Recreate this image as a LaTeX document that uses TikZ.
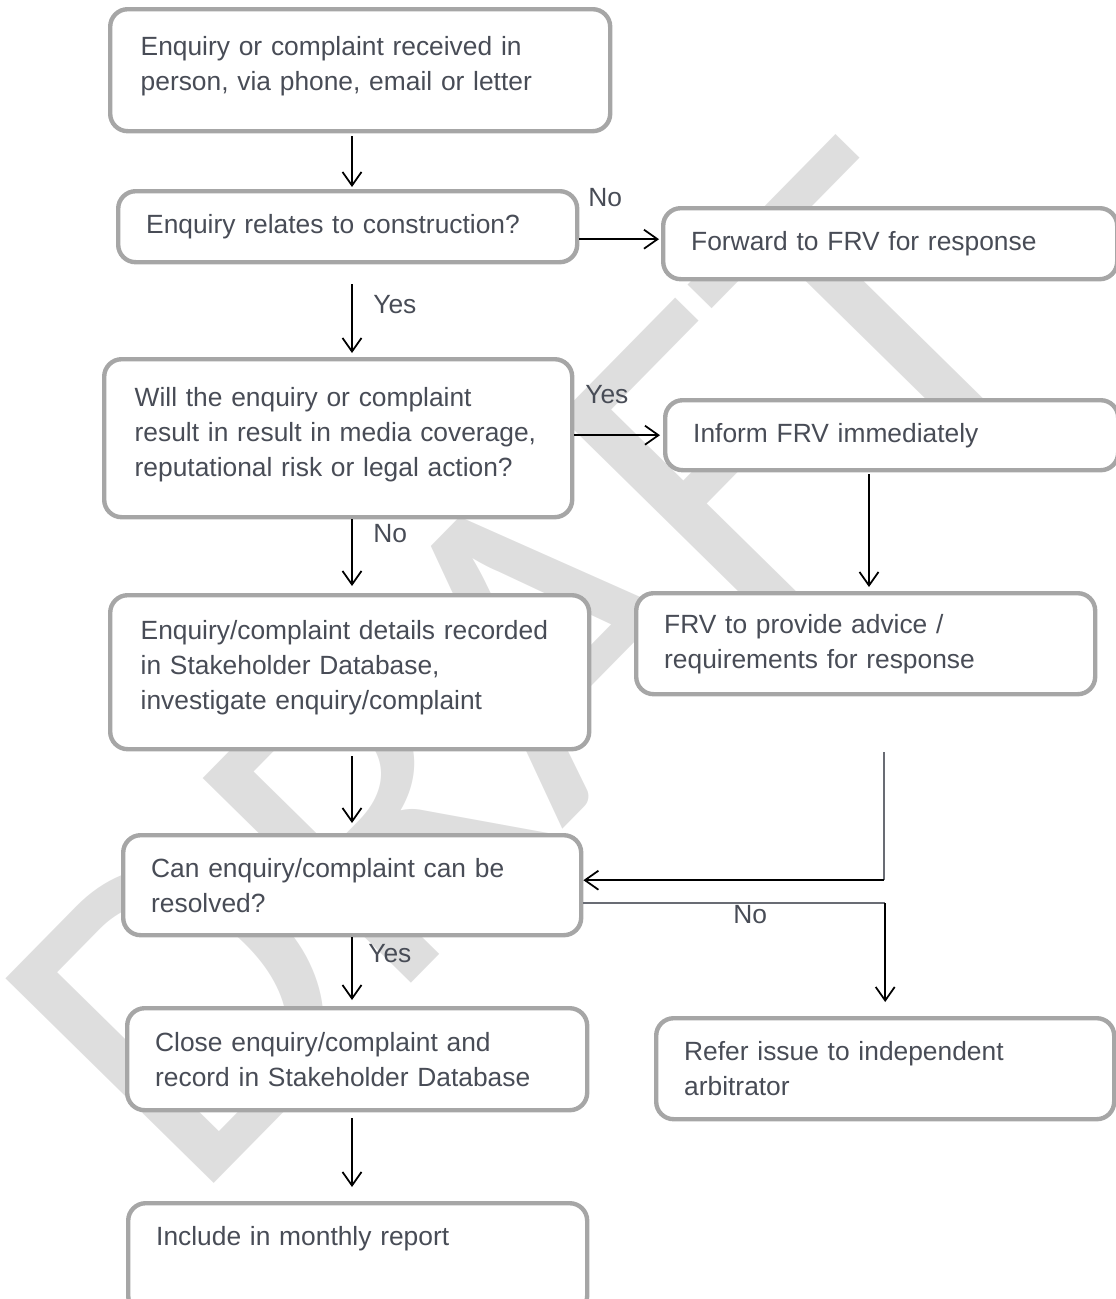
\documentclass[tikz,border=0pt]{standalone}
\usepackage{fontspec}
\setmainfont{Liberation Sans}
\newfontfamily\wmfont{Carlito}
\usetikzlibrary{arrows.meta,calc}
\definecolor{txtgray}{RGB}{72,76,86}
\definecolor{boxgray}{RGB}{166,166,166}
\definecolor{linegray}{RGB}{105,108,116}
\definecolor{wmgray}{RGB}{222,222,222}

\begin{document}
\begin{tikzpicture}[
    box/.style = {draw=boxgray, line width=2.5pt, rounded corners=0.35cm, fill=white,
                  anchor=north west, align=left, inner xsep=0.56cm, inner ysep=0.1cm,
                  text=txtgray, font=\fontsize{15}{19.9}\selectfont},
    lbl/.style = {anchor=base west, inner sep=0pt, text=txtgray,
                  font=\fontsize{15}{19.9}\selectfont},
    arr/.style = {line width=1pt, -{Straight Barb[length=2.7mm,width=3.8mm]}},
    gline/.style = {line width=1pt, draw=linegray}
  ]
\useasboundingbox (0,0) rectangle (22.3,-25.98);

% watermark
\node[rotate=45.5, text=wmgray, inner sep=0pt,
      font=\wmfont\fontsize{259}{259}\selectfont] (wm) at (10.32,-13.36) {DRAFT};

% left column
\node[box, inner xsep=0.61cm, text width=8.78cm, minimum height=2.44cm, text depth=0.98cm] (recv) at (2.16,-0.14)
    {Enquiry or complaint received in\\person, via phone, email or letter};
\node[box, text width=8.06cm, minimum height=1.42cm] (constr) at (2.32,-3.78)
    {Enquiry relates to construction?};
\node[box, inner xsep=0.61cm, text width=8.14cm, minimum height=3.16cm, text depth=1.66cm] (media) at (2.04,-7.14)
    {Will the enquiry or complaint\\result in result in media coverage,\\reputational risk or legal action?};
\node[box, inner xsep=0.61cm, text width=8.36cm, minimum height=3.08cm, text depth=1.7cm] (record) at (2.16,-11.86)
    {Enquiry/complaint details recorded\\in Stakeholder Database,\\investigate enquiry/complaint};
\node[box, text width=8.04cm, minimum height=2.0cm] (resolve) at (2.42,-16.66)
    {Can enquiry/complaint can be\\resolved?};
\node[box, text width=8.08cm, minimum height=2.04cm] (close) at (2.50,-20.12)
    {Close enquiry/complaint and\\record in Stakeholder Database};
\node[box, text width=8.06cm, minimum height=2.2cm, text depth=0.9cm] (report) at (2.52,-24.02)
    {Include in monthly report};

% right column
\node[box, text width=7.96cm, minimum height=1.42cm] (fwd) at (13.22,-4.12)
    {Forward to FRV for response};
\node[box, text width=7.94cm, minimum height=1.40cm] (inform) at (13.26,-7.96)
    {Inform FRV immediately};
\node[box, text width=8.06cm, minimum height=2.02cm] (advice) at (12.68,-11.82)
    {FRV to provide advice /\\requirements for response};
\node[box, text width=8.04cm, minimum height=2.02cm] (refer) at (13.08,-20.32)
    {Refer issue to independent\\arbitrator};

% columns for the arrows
\coordinate (col) at (7.04,0);
\coordinate (advcol) at (17.38,0);
\coordinate (loop) at (17.68,-15.04);

% down the left column
\draw[arr, shorten <=0.06cm, shorten >=0.04cm] (recv.south -| col) -- (constr.north -| col);
\draw[arr, shorten <=0.40cm, shorten >=0.08cm] (constr.south -| col) -- (media.north -| col);
\draw[arr, shorten >=0.14cm] (media.south -| col) -- (record.north -| col);
\draw[arr, shorten <=0.10cm, shorten >=0.20cm] (record.south -| col) -- (resolve.north -| col);
\draw[arr, shorten >=0.12cm] (resolve.south -| col) -- (close.north -| col);
\draw[arr, shorten <=0.12cm, shorten >=0.28cm] (close.south -| col) -- (report.north -| col);

% across to the right
\draw[arr, shorten >=0.04cm] ([yshift=-0.25cm]constr.east) -- ([yshift=-0.25cm]constr.east -| fwd.west);
\draw[arr, shorten >=0.06cm] (media.east |- inform) -- (inform.west);
\draw[arr, shorten <=0.04cm, shorten >=0.08cm] (inform.south -| advcol) -- (advice.north -| advcol);

% back to resolve, and out to refer
\draw[gline] (loop) -- ([yshift=0.1cm]resolve.east -| loop);
\draw[arr] ([yshift=0.1cm]resolve.east -| loop) -- ([yshift=0.1cm]resolve.east);
\draw[gline] ([yshift=-0.36cm]resolve.east) -- ([yshift=-0.36cm]resolve.east -| refer.north);
\draw[arr, shorten >=0.28cm] ([yshift=-0.36cm]resolve.east -| refer.north) -- (refer.north);

% labels
\node[lbl] (lno1) at (11.76,-4.12) {No};
\node[lbl] (lyes1) at (7.46,-6.26) {Yes};
\node[lbl] (lyes2) at (11.70,-8.06) {Yes};
\node[lbl] (lno2) at (7.46,-10.84) {No};
\node[lbl] (lno3) at (14.66,-18.46) {No};
\node[lbl] (lyes3) at (7.36,-19.24) {Yes};

\end{tikzpicture}
\end{document}
